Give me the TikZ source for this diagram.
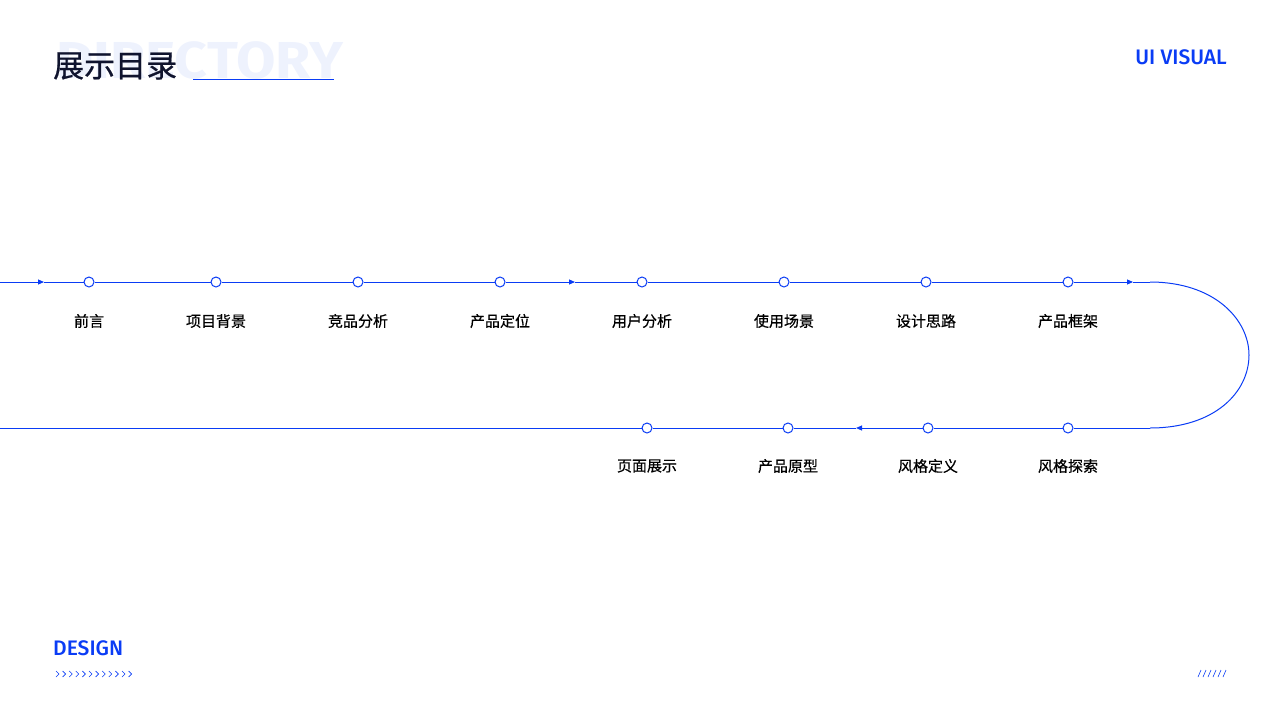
\documentclass[tikz,border=0pt]{standalone}
\usepackage{fontspec}
\setmainfont{Fira Sans}
\newfontfamily\med{Fira Sans Medium}
\newfontfamily\cjk{Noto Sans CJK SC}
\newfontfamily\cjkm[FakeBold=0.6]{Noto Sans CJK SC}
\usetikzlibrary{arrows.meta}
\definecolor{bl}{HTML}{0A3CF5}
\definecolor{ghost}{HTML}{EEF2FD}
\definecolor{ink}{HTML}{10142E}
\tikzset{
 x=1pt,y=-1pt,
 ln/.style={draw=bl,line width=1pt},
 arr/.style={ln,-{Triangle[length=6pt,width=5pt]}},
 dot/.style={circle,draw=bl,fill=white,line width=1pt,minimum size=10pt,inner sep=0pt},
 lab/.style={font=\cjkm\fontsize{15}{15}\selectfont,text=black},
 orn/.style={draw=bl,line width=0.6pt}
}
\begin{document}
\begin{tikzpicture}
\useasboundingbox (0,0) rectangle (1280,720);
% header
\node[anchor=west,text=ghost,font=\bfseries\fontsize{52}{52}\selectfont,inner sep=0,xscale=1.1] (gh) at (56,60) {DIRECTORY};
\node[anchor=west,text=ink,font=\cjkm\fontsize{31}{31}\selectfont,inner sep=0] (tt) at (53,66) {展示目录};
\coordinate (u1) at (193,79); \coordinate (u2) at (334,79);
\draw[bl,line width=0.8pt] (u1) -- (u2);
\node[anchor=east,text=bl,font=\med\fontsize{21}{21}\selectfont,inner sep=0] (ui) at (1227,57) {UI VISUAL};
\node[anchor=west,text=bl,font=\med\fontsize{21}{21}\selectfont,inner sep=0] (de) at (53,648) {DESIGN};
\foreach \i in {0,...,11}{
 \draw[orn] (56+6.6*\i,671) -- (59+6.6*\i,674) -- (56+6.6*\i,677);
}
\foreach \i in {0,...,5}{
 \draw[orn] (1198+5*\i,677) -- (1201+5*\i,670);
}
% top row
\coordinate (s0) at (0,282);
\coordinate (a1) at (44,282);
\coordinate (a2) at (575,282);
\coordinate (a3) at (1133,282);
\coordinate (t4) at (1150,282);
\coordinate (b4) at (1150,428);
\coordinate (b0) at (0,428);
\coordinate (a4) at (856,428);
\foreach \n/\x/\t in {p1/89/前言,p2/216/项目背景,p3/358/竞品分析,p4/500/产品定位,p5/642/用户分析,p6/784/使用场景,p7/926/设计思路,p8/1068/产品框架}{
 \node[dot] (\n) at (\x,282) {};
 \node[lab] (l\n) at (\x,321) {\t};
}
\foreach \n/\x/\t in {q1/1068/风格探索,q2/928/风格定义,q3/788/产品原型,q4/647/页面展示}{
 \node[dot] (\n) at (\x,428) {};
 \node[lab] (l\n) at (\x,466) {\t};
}
\draw[arr] (s0) -- (a1);
\draw[ln] (a1) -- (p1) (p1) -- (p2) (p2) -- (p3) (p3) -- (p4);
\draw[arr] (p4) -- (a2);
\draw[ln] (a2) -- (p5) (p5) -- (p6) (p6) -- (p7) (p7) -- (p8);
\draw[arr] (p8) -- (a3);
\draw[ln] (a3) -- (t4);
\draw[ln] (t4) .. controls (1215,282) and (1249,320) .. (1249,355) .. controls (1249,392) and (1215,428) .. (b4);
\draw[ln] (b4) -- (q1) (q1) -- (q2);
\draw[arr] (q2) -- (a4);
\draw[ln] (a4) -- (q3) (q3) -- (q4) (q4) -- (b0);
\end{tikzpicture}
\end{document}
